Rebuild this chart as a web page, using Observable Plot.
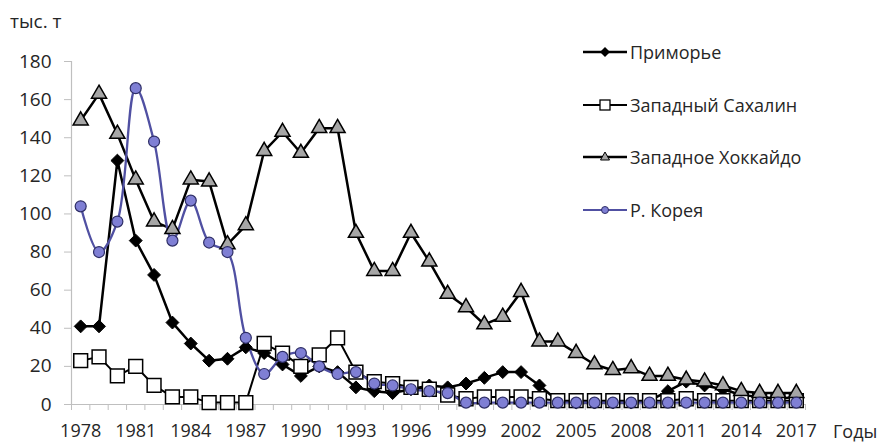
<!DOCTYPE html>
<html><head><meta charset="utf-8">
<script src="https://cdn.jsdelivr.net/npm/d3@7"></script>
<script src="https://cdn.jsdelivr.net/npm/@observablehq/plot@0.6"></script>
<style>
body{margin:0;background:#fff;}
#wrap{position:relative;width:887px;height:444px;font-family:"Open Sans",sans-serif;color:#262626;}
#wrap svg.plot{position:absolute;left:0;top:0;}
#unit{position:absolute;left:10px;top:8px;font-size:19px;}
#xlab{position:absolute;left:833px;top:419px;font-size:18px;}
.item{position:absolute;left:583px;height:24px;display:flex;align-items:center;white-space:nowrap;font-size:18px;}
.item svg{margin-right:3px;}
</style>
</head><body>
<div id="wrap">
  <div id="unit">тыс. т</div>
  <div id="xlab">Годы</div>
</div>
<script>
const years = d3.range(1978, 2018);
const seriesNames = ["Приморье", "Западный Сахалин", "Западное Хоккайдо", "Р. Корея"];
const primorye = [41, 41, 128, 86, 68, 43, 32, 23, 24, 30, 27, 21, 15, 20, 17, 9, 7, 6, 8, 10, 9, 11, 14, 17, 17, 10, 2, 1, 1, 1, 1, 2, 7, 12, 10, 8, 5, 4, 3, 4];
const sakhalin = [23, 25, 15, 20, 10, 4, 4, 1, 1, 1, 32, 27, 20, 26, 35, 17, 12, 11, 9, 8, 5, 3, 4, 4, 4, 3, 2, 2, 2, 2, 2, 2, 2, 3, 2, 2, 2, 2, 2, 2];
const hokkaido = [149, 163, 142, 118, 96, 92, 118, 117, 84, 94, 133, 143, 132, 145, 145, 90, 70, 70, 90, 75, 58, 51, 42, 46, 59, 33, 33, 27, 21, 18, 19, 15, 15, 13, 12, 10, 7, 6, 6, 6];
const korea = [104, 80, 96, 166, 138, 86, 107, 85, 80, 35, 16, 25, 27, 20, 16, 17, 11, 10, 8, 7, 6, 1, 1, 1, 1, 1, 1, 1, 1, 1, 1, 1, 1, 1, 1, 1, 1, 1, 1, 1];
const xLabelYears = d3.range(1978, 2018, 3);
const yTicks = d3.range(0, 181, 20);

const toRows = arr => years.map((y, i) => ({year: y, v: arr[i]}));
const P = toRows(primorye), S = toRows(sakhalin), H = toRows(hokkaido), K = toRows(korea);
const boundaries = d3.range(1977.5, 2018, 1);
const axisGray = "#bfbfbf", txt = "#262626";

const chart = Plot.plot({
  width: 887, height: 444,
  marginLeft: 71, marginRight: 82, marginTop: 61, marginBottom: 40,
  style: {fontFamily: "Open Sans, sans-serif", fontSize: "18px", color: txt, background: "transparent"},
  x: {type: "linear", domain: [1977.5, 2017.5], axis: null},
  y: {domain: [0, 180], axis: null},
  marks: [
    Plot.ruleY([0], {stroke: axisGray, strokeWidth: 1.2}),
    Plot.ruleX([1977.5], {stroke: axisGray, strokeWidth: 1.2}),
    Plot.axisX(boundaries, {tickSize: 6, tickFormat: () => "", stroke: axisGray, label: null}),
    Plot.axisX(xLabelYears, {tickSize: 0, tickPadding: 20, tickFormat: d => String(d), fill: txt, label: null}),
    Plot.axisY(yTicks, {tickSize: 7, tickPadding: 13, stroke: axisGray, fill: txt, label: null, fontSize: 19}),
    Plot.line(P, {x: "year", y: "v", stroke: "#000", strokeWidth: 2.5}),
    Plot.line(S, {x: "year", y: "v", stroke: "#000", strokeWidth: 2}),
    Plot.line(H, {x: "year", y: "v", stroke: "#000", strokeWidth: 2.5}),
    Plot.line(K, {x: "year", y: "v", stroke: "#5050a2", strokeWidth: 2.3, curve: "catmull-rom"}),
    Plot.dot(P, {x: "year", y: "v", symbol: "diamond2", r: 5.8, fill: "#000", stroke: "#000", strokeWidth: 1}),
    Plot.dot(S, {x: "year", y: "v", symbol: "square", r: 7.8, fill: "#fff", stroke: "#000", strokeWidth: 1.5}),
    Plot.dot(H, {x: "year", y: "v", symbol: "triangle", r: 5.6, fill: "#a6a6a6", stroke: "#000", strokeWidth: 1.5}),
    Plot.dot(K, {x: "year", y: "v", symbol: "circle", r: 5.5, fill: "#7f7fd4", stroke: "#2e2e66", strokeWidth: 1.2})
  ]
});
chart.classList.add("plot");
const wrap = document.getElementById("wrap");
wrap.insertBefore(chart, wrap.firstChild);

// legend
const legendCenters = [52, 105, 157, 210];
const legendMarkers = [
  {stroke: "#000", sw: 2.5, shape: '<path d="M22,5 L27,10 L22,15 L17,10Z" fill="#000"/>'},
  {stroke: "#000", sw: 2, shape: '<rect x="17" y="5" width="10" height="10" fill="#fff" stroke="#000" stroke-width="1.3"/>'},
  {stroke: "#000", sw: 2.5, shape: '<path d="M22,5 L26.5,13 L17.5,13Z" fill="#a6a6a6" stroke="#000" stroke-width="1"/>'},
  {stroke: "#5050a2", sw: 2, shape: '<circle cx="22" cy="10" r="3.5" fill="#7f7fd4" stroke="#2e2e66" stroke-width="1"/>'}
];
seriesNames.forEach((name, i) => {
  const d = document.createElement("div");
  d.className = "item";
  d.style.top = (legendCenters[i] - 12) + "px";
  const m = legendMarkers[i];
  d.innerHTML = `<svg width="44" height="20"><line x1="0" y1="10" x2="44" y2="10" stroke="${m.stroke}" stroke-width="${m.sw}"/>${m.shape}</svg><span>${name}</span>`;
  wrap.appendChild(d);
});
</script>
</body></html>
